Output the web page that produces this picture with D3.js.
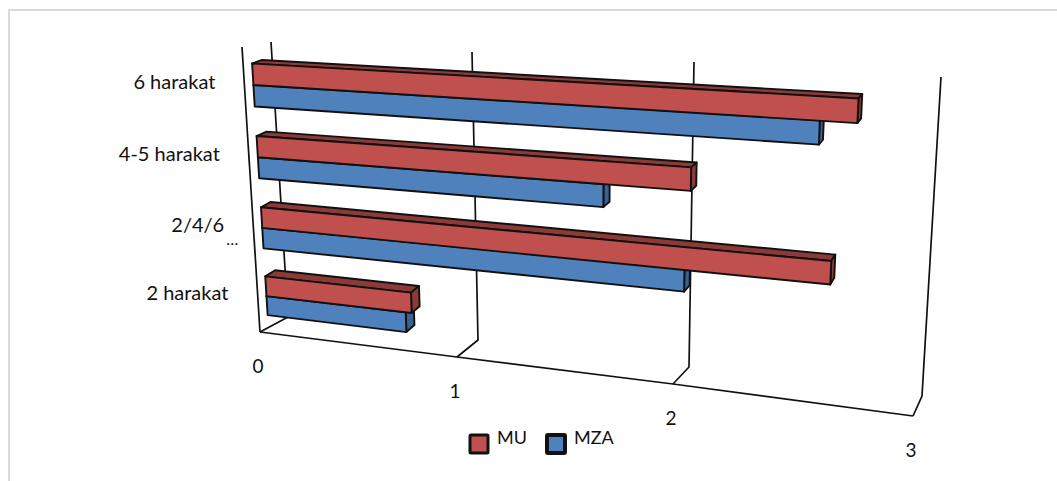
<!DOCTYPE html>
<html>
<head>
<meta charset="utf-8">
<script src="https://cdn.jsdelivr.net/npm/d3@7"></script>
<style>
html, body { margin: 0; padding: 0; background: #fff; overflow: hidden; }
text { font-family: Lato, "Open Sans", sans-serif; fill: #111; }
</style>
</head>
<body>
<script>
var width = 1057;
var height = 481;

var categories = ["6 harakat", "4-5 harakat", "2/4/6", "2 harakat"];
var seriesNames = ["MU", "MZA"];
var muValues = [2.7, 2.04, 2.62, 0.74];
var mzaValues = [2.55, 1.65, 2.02, 0.71];
var valueTicks = [0, 1, 2, 3];

var seriesColors = {
    MU: { front: "#c0504d", top: "#8c3a38", side: "#8c3a38" },
    MZA: { front: "#4f81bd", top: "#3a618f", side: "#3a618f" }
};

// the tilted box of the chart: every edge gets a scale over the value axis
var floorFrontX = d3.scaleLinear().domain(valueTicks).range([260, 457, 673, 913]);
var floorFrontY = d3.scaleLinear().domain(valueTicks).range([332, 357, 384, 416]);
var floorBackX = d3.scaleLinear().domain(valueTicks).range([288, 478, 689, 922]);
var floorBackY = d3.scaleLinear().domain(valueTicks).range([317, 340, 367, 396]);
var wallTopX = d3.scaleLinear().domain(valueTicks).range([271, 472, 694, 941]);
var wallTopY = d3.scaleLinear().domain(valueTicks).range([42, 52, 62, 77]);

// height on the wall, rows get slightly wider towards the top
var heightScale = d3.scalePow().exponent(1.05).domain([0, 1]).range([0, 1]);
var frontStretch = 1.036;

var bandScale = d3.scaleBand()
    .domain(categories)
    .range([0.99, 0])
    .paddingInner(0.41)
    .paddingOuter(0.205);

var seriesScale = d3.scaleBand()
    .domain(seriesNames)
    .range([0, bandScale.bandwidth()]);

var barDepthFront = 0.3;
var barDepthBack = 0.65;
var backLift = 1.5;

// v = value, h = 0..1 up the wall, z = 0 at the front, 1 at the back wall
function project(v, h, z) {
    var hh = heightScale(h);
    var wallDx = wallTopX(v) - floorBackX(v);
    var wallDy = wallTopY(v) - floorBackY(v);
    var backX = floorBackX(v) + wallDx * hh;
    var backY = floorBackY(v) + wallDy * hh;
    var frontX = floorFrontX(v) + wallDx * frontStretch * hh;
    var frontY = floorFrontY(v) + wallDy * frontStretch * hh;
    return [frontX + (backX - frontX) * z, frontY + (backY - frontY) * z];
}

function barFront(v, h) {
    return project(v, h, barDepthFront);
}

function barBack(v, h) {
    var p = project(v, h, barDepthBack);
    return [p[0], p[1] - backLift];
}

var svg = d3.select("body")
    .append("svg")
    .attr("width", width)
    .attr("height", height);

svg.append("rect")
    .attr("x", 9)
    .attr("y", 10)
    .attr("width", 1100)
    .attr("height", 500)
    .attr("fill", "#fff")
    .attr("stroke", "#d9d9d9")
    .attr("stroke-width", 2);

var line = d3.line();

var walls = svg.append("g")
    .attr("fill", "none")
    .attr("stroke", "#111")
    .attr("stroke-width", 1.7);

// back wall gridlines with their floor ticks
valueTicks.forEach(function(t) {
    walls.append("path").attr("d", line([
        project(t, 1, 1), project(t, 0, 1), project(t, 0, 0)
    ]));
});

// floor front edge and left wall edge
walls.append("path").attr("d", line(valueTicks.map(function(t) { return project(t, 0, 0); })));
walls.append("path").attr("d", line([project(0, 0, 0), [242, 47]]));

function drawBar(g, value, h0, h1, colors) {
    var faces = [
        { fill: colors.top, pts: [barFront(0, h1), barBack(0, h1), barBack(value, h1), barFront(value, h1)] },
        { fill: colors.side, pts: [barFront(value, h0), barFront(value, h1), barBack(value, h1), barBack(value, h0)] },
        { fill: colors.front, pts: [barFront(0, h0), barFront(0, h1), barFront(value, h1), barFront(value, h0)] }
    ];
    g.selectAll("path")
        .data(faces)
        .enter()
        .append("path")
        .attr("d", function(d) { return line(d.pts) + "Z"; })
        .attr("fill", function(d) { return d.fill; })
        .attr("stroke", "#111")
        .attr("stroke-width", 1.9)
        .attr("stroke-linejoin", "round");
}

categories.forEach(function(c, i) {
    var bandTop = bandScale(c);
    // MZA sits under MU, so it goes down first
    var rows = [
        { name: "MZA", value: mzaValues[i] },
        { name: "MU", value: muValues[i] }
    ];
    rows.forEach(function(r) {
        var offset = seriesScale(r.name);
        var hTop = bandTop + bandScale.bandwidth() - offset;
        var hBottom = hTop - seriesScale.bandwidth();
        drawBar(svg.append("g"), r.value, hBottom, hTop, seriesColors[r.name]);
    });

    var mid = barFront(0, bandTop + bandScale.bandwidth() / 2);
    svg.append("text")
        .attr("x", mid[0] - 38)
        .attr("y", mid[1] + 4)
        .attr("text-anchor", "end")
        .attr("font-size", 20)
        .text(c);
    if (c === "2/4/6") {
        svg.append("text")
            .attr("x", mid[0] - 36)
            .attr("y", mid[1] + 17)
            .attr("font-size", 16)
            .text("…");
    }
});

// value labels hang below the floor front edge
svg.selectAll(".tick-label")
    .data(valueTicks)
    .enter()
    .append("text")
    .attr("class", "tick-label")
    .attr("x", function(d) { return project(d, 0, 0)[0] - 2; })
    .attr("y", function(d) { return project(d, 0, 0)[1] + 41; })
    .attr("text-anchor", "middle")
    .attr("font-size", 19)
    .text(function(d) { return d; });

// legend
var legendX = [479, 556];
var legendStroke = [3, 4];
seriesNames.forEach(function(name, i) {
    svg.append("rect")
        .attr("x", legendX[i] - 9)
        .attr("y", 435)
        .attr("width", 18)
        .attr("height", 18)
        .attr("rx", 1)
        .attr("fill", seriesColors[name].front)
        .attr("stroke", "#111")
        .attr("stroke-width", legendStroke[i]);
    svg.append("text")
        .attr("x", legendX[i] + 18)
        .attr("y", 444)
        .attr("font-size", 18)
        .text(name);
});
</script>
</body>
</html>
